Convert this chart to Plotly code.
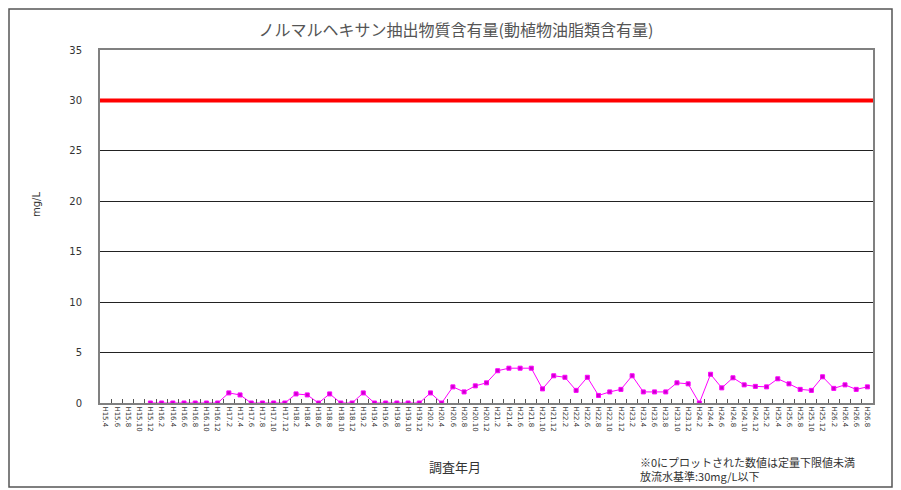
import plotly.graph_objects as go

# ---- data ----
dates = [
    "H15.4", "H15.6", "H15.8", "H15.10", "H15.12",
    "H16.2", "H16.4", "H16.6", "H16.8", "H16.10", "H16.12",
    "H17.2", "H17.4", "H17.6", "H17.8", "H17.10", "H17.12",
    "H18.2", "H18.4", "H18.6", "H18.8", "H18.10", "H18.12",
    "H19.2", "H19.4", "H19.6", "H19.8", "H19.10", "H19.12",
    "H20.2", "H20.4", "H20.6", "H20.8", "H20.10", "H20.12",
    "H21.2", "H21.4", "H21.6", "H21.8", "H21.10", "H21.12",
    "H22.2", "H22.4", "H22.6", "H22.8", "H22.10", "H22.12",
    "H23.2", "H23.4", "H23.6", "H23.8", "H23.10", "H23.12",
    "H24.2", "H24.4", "H24.6", "H24.8", "H24.10", "H24.12",
    "H25.2", "H25.4", "H25.6", "H25.8", "H25.10", "H25.12",
    "H26.2", "H26.4", "H26.6", "H26.8",
]
values = [
    None, None, None, None,
    0, 0, 0, 0, 0, 0, 0, 1.0, 0.8, 0, 0, 0, 0, 0.9, 0.8, 0, 0.9, 0, 0, 1.0,
    0, 0, 0, 0, 0, 1.0, 0,
    1.6, 1.1, 1.7, 2.0, 3.2, 3.45, 3.45, 3.45, 1.4, 2.7, 2.55, 1.25, 2.55,
    0.75, 1.1, 1.35, 2.7, 1.1, 1.1, 1.1, 2.0, 1.9, 0, 2.85, 1.5, 2.5, 1.8,
    1.65, 1.6, 2.4, 1.9, 1.35, 1.25, 2.6, 1.45, 1.8, 1.35, 1.6,
]
standard = 30
y_ticks = [0, 5, 10, 15, 20, 25, 30, 35]

title = "ノルマルヘキサン抽出物質含有量(動植物油脂類含有量)"
x_title = "調査年月"
y_title = "mg/L"
note1 = "※0にプロットされた数値は定量下限値未満"
note2 = "放流水基準:30mg/L以下"

OFF = 8  # page body margin
W, H = 901 - OFF, 490 - OFF
L, R, T, B = 100 - OFF, 873 - OFF, 50 - OFF, 403 - OFF
JP = "Noto Sans CJK JP"

def px_x(p):
    return (p - OFF - L) / (R - L)

def px_y(p):
    return (B - (p - OFF)) / (B - T)

fig = go.Figure()
fig.add_trace(go.Scatter(
    x=dates, y=values, mode="lines+markers",
    line=dict(color="#FF00FF", width=1),
    marker=dict(symbol="square", size=4, color="#CC00CC",
                line=dict(color="#FF00FF", width=1)),
    connectgaps=False, showlegend=False, hoverinfo="x+y",
))

fig.add_shape(type="line", xref="paper", yref="y", x0=0, x1=1,
              y0=standard, y1=standard, line=dict(color="#FF0000", width=4))
# outer chart frame
fig.add_shape(type="rect", xref="paper", yref="paper",
              x0=px_x(9), x1=px_x(892), y0=px_y(487), y1=px_y(9),
              line=dict(color="#555555", width=1.5))

fig.update_layout(
    width=W, height=H,
    margin=dict(l=L, r=W - R, t=T, b=H - B),
    paper_bgcolor="white", plot_bgcolor="white",
    font=dict(family=JP, color="#333333"),
    title=dict(text=title, x=(456 - OFF) / W, xref="container", y=1 - (30 - OFF) / H,
               yref="container", yanchor="middle", xanchor="center",
               font=dict(size=16, family=JP, color="#555555")),
    xaxis=dict(type="category", range=[-0.5, len(dates) - 0.5],
               tickangle=90, tickfont=dict(size=7, family="DejaVu Sans", color="#333333"),
               ticks="inside", ticklen=4, tickcolor="#555555", tickson="boundaries",
               showline=True, linecolor="#808080", linewidth=2, mirror=True,
               showgrid=False, fixedrange=True),
    yaxis=dict(range=[0, 35], tickvals=y_ticks, showgrid=True,
               gridcolor="#222222", gridwidth=1,
               tickfont=dict(size=10, family="DejaVu Sans", color="#333333"),
               ticklabelstandoff=14,
               showline=True, linecolor="#808080", linewidth=2, mirror=True,
               ticks="", zeroline=False, fixedrange=True),
    annotations=[
        dict(text=y_title, xref="paper", yref="paper", x=px_x(36), y=px_y(205),
             xanchor="center", yanchor="middle",
             showarrow=False, textangle=-90, font=dict(size=10, family="DejaVu Sans")),
        dict(text=x_title, xref="paper", yref="paper", x=px_x(455), y=px_y(466),
             xanchor="center", yanchor="middle",
             showarrow=False, font=dict(size=13, family=JP)),
        dict(text=note1 + "<br>" + note2, xref="paper", yref="paper",
             x=px_x(638), y=px_y(469), xanchor="left", yanchor="middle", align="left",
             showarrow=False, font=dict(size=11, family=JP)),
    ],
)

fig.write_html("out.html")
